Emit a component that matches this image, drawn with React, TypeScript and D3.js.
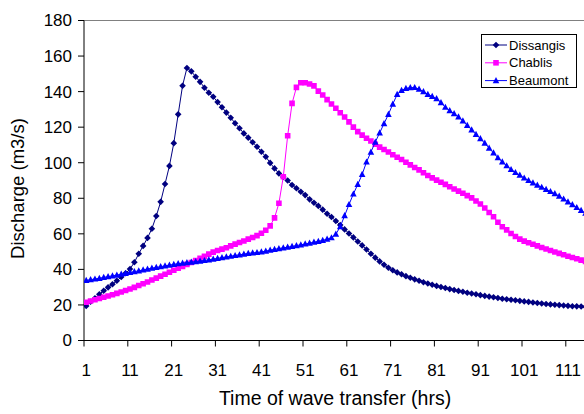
import React from "react";
import * as d3 from "d3";

// Hourly discharge (m3/s) at three gauging stations
const hours: number[] = d3.range(1, 116);

const dissangis: number[] = [
  19.4, 21.8, 23.7, 26, 28, 29.9, 31.6, 33.6, 35.7, 37.8,
  40.2, 44, 48.8, 53.2, 57.7, 62.9, 70, 78, 88, 98.2,
  111, 127.2, 143.3, 153.3, 151.4, 148.4, 145.5, 142.2, 139.4, 137.1,
  134.1, 131.2, 128.2, 125.3, 122.2, 119.4, 116.5, 114.1, 111.5, 109,
  106.2, 103.4, 99.9, 96.8, 94, 92, 90, 87.5, 85.6, 83.7,
  81.8, 79.4, 77.5, 75.7, 73.6, 71.3, 69.5, 67.2, 65, 62.5,
  60.2, 58, 55.7, 53.5, 51.2, 48.8, 46.6, 44.5, 42.6, 40.9,
  39.5, 38.3, 37.3, 36.2, 35.3, 34.4, 33.6, 32.8, 32.1, 31.4,
  30.7, 30.1, 29.5, 28.9, 28.4, 27.9, 27.4, 26.9, 26.4, 26,
  25.5, 25.1, 24.7, 24.3, 23.9, 23.5, 23.2, 22.9, 22.6, 22.3,
  22, 21.7, 21.4, 21.1, 20.8, 20.5, 20.3, 20.1, 19.9, 19.7,
  19.5, 19.3, 19.2, 19.1, 19,
];

const chablis: number[] = [
  21.5, 22.2, 22.9, 23.6, 24.3, 25, 25.7, 26.5, 27.3, 28.1,
  29, 29.9, 30.9, 31.9, 32.9, 34, 35.1, 36.2, 37.3, 38.4,
  39.5, 40.6, 41.7, 42.8, 43.9, 45, 46.2, 47.4, 48.6, 49.7,
  50.6, 51.4, 52.2, 53.2, 54.2, 55.1, 56, 57, 57.9, 59,
  60.3, 62, 64.5, 69, 77.2, 92.1, 115.2, 133.4, 142.4, 145,
  145, 144.3, 143.2, 140.3, 138.1, 135.5, 133, 130.6, 128.1, 125.7,
  123, 120, 117.5, 115.5, 113.8, 112.2, 110.4, 108.8, 107.4, 106,
  104.5, 103.1, 101.8, 100.3, 98.8, 97.3, 96, 94.4, 92.8, 91.5,
  90.2, 89, 87.8, 86.5, 85.2, 84, 82.8, 81.5, 80.2, 78.5,
  76.8, 74.5, 72, 69.6, 66.5, 64, 62.2, 60.2, 58.5, 57,
  55.9, 55, 54.1, 53.2, 52.3, 51.5, 50.6, 49.8, 49, 48.2,
  47.4, 46.7, 46, 45.2, 44.5,
];

const beaumont: number[] = [
  33.8, 34.2, 34.6, 35, 35.5, 35.9, 36.4, 36.8, 37.3, 37.8,
  38.3, 38.7, 39.2, 39.7, 40.2, 40.7, 41.1, 41.5, 42, 42.4,
  42.8, 43.2, 43.5, 43.8, 44.1, 44.4, 44.7, 45, 45.4, 45.8,
  46.2, 46.6, 47, 47.4, 47.8, 48.2, 48.6, 49, 49.3, 49.5,
  49.8, 50.3, 50.8, 51.3, 51.7, 52.1, 52.5, 52.9, 53.4, 53.8,
  54.3, 54.8, 55.3, 55.8, 56.3, 57, 57.8, 59.8, 64, 70.2,
  76.5, 82.4, 87.8, 93.4, 100.4, 106, 111.6, 116.8, 122, 127.2,
  133, 138.4, 140.7, 141.8, 142.2, 142.3, 141.4, 140, 138.5, 137.3,
  136, 133.8, 131.2, 129.3, 127.6, 125.8, 123.5, 121, 118.5, 116,
  113.5, 111, 108.2, 105.5, 102.8, 100.5, 98.3, 96.2, 94.5, 93,
  91.4, 90, 88.7, 87.4, 86.2, 85, 83.8, 82.6, 81.2, 79.6,
  78, 76.4, 74.8, 73.2, 71.6,
];

const seriesNames = ["Dissangis", "Chablis", "Beaumont"];
const seriesColors = ["#000080", "#FF00FF", "#0000FF"];
const xTickLabels = ["1", "11", "21", "31", "41", "51", "61", "71", "81", "91", "101", "111"];
const yTicks = [0, 20, 40, 60, 80, 100, 120, 140, 160, 180];

const W = 584;
const H = 414;
const FONT = "'Liberation Sans', Arial, sans-serif";

const plotLeft = 84;
const step = 4.38;
const nCats = 120;
const plotTop = 20.5;
const plotBottom = 340.5;

const x = d3.scaleLinear().domain([0.5, nCats + 0.5]).range([plotLeft, plotLeft + nCats * step]);
const y = d3.scaleLinear().domain([0, 180]).range([plotBottom, plotTop]);

type Shape = "diamond" | "square" | "triangle";
const shapes: Shape[] = ["diamond", "square", "triangle"];

function markerPath(shape: Shape): string {
  if (shape === "diamond") return "M0,-3.3L3.3,0L0,3.3L-3.3,0Z";
  if (shape === "square") return "M-2.8,-2.8H2.8V2.8H-2.8Z";
  return "M0,-3.6L3.3,2.6L-3.3,2.6Z";
}

const allSeries = [dissangis, chablis, beaumont];

export default function App() {
  const line = d3
    .line<number>()
    .x((_, i) => x(hours[i]))
    .y((d) => y(d));

  const boundaryTicks = d3.range(0, nCats + 1, 10).map((k) => k + 0.5);

  return (
    <svg
      width={W}
      height={H}
      style={{ position: "absolute", left: 0, top: 0, background: "#fff" }}
      fontFamily={FONT}
    >
      <rect x={0} y={0} width={W} height={H} fill="#fff" />
      <defs>
        <clipPath id="plotClip">
          <rect x={plotLeft} y={plotTop - 6} width={W - plotLeft} height={plotBottom - plotTop + 12} />
        </clipPath>
      </defs>

      {/* plot frame top edge */}
      <line x1={plotLeft} x2={W} y1={plotTop} y2={plotTop} stroke="#808080" strokeWidth={1} />

      {/* y axis */}
      <line x1={plotLeft} x2={plotLeft} y1={plotTop} y2={plotBottom} stroke="#000" strokeWidth={1} />
      {yTicks.map((t) => (
        <g key={t}>
          <line x1={plotLeft - 6} x2={plotLeft} y1={y(t)} y2={y(t)} stroke="#000" />
          <text x={plotLeft - 12} y={y(t)} dy="0.35em" textAnchor="end" fontSize={17}>
            {t}
          </text>
        </g>
      ))}

      {/* x axis */}
      <line x1={plotLeft} x2={W} y1={plotBottom} y2={plotBottom} stroke="#000" strokeWidth={1} />
      {boundaryTicks.map((t) => (
        <line key={t} x1={x(t)} x2={x(t)} y1={plotBottom} y2={plotBottom + 6} stroke="#000" />
      ))}
      {xTickLabels.map((lab) => (
        <text key={lab} x={x(+lab)} y={376} textAnchor="middle" fontSize={17}>
          {lab}
        </text>
      ))}

      <text x={335} y={405} textAnchor="middle" fontSize={19.5}>
        Time of wave transfer (hrs)
      </text>
      <text
        transform={`translate(24,${(plotTop + plotBottom) / 2 + 8}) rotate(-90)`}
        textAnchor="middle"
        fontSize={18.5}
      >
        Discharge (m3/s)
      </text>

      {/* series */}
      <g clipPath="url(#plotClip)">
        {allSeries.map((vals, s) => (
          <g key={seriesNames[s]}>
            <path d={line(vals) || ""} fill="none" stroke={seriesColors[s]} strokeWidth={1} />
            {vals.map((v, i) => (
              <path
                key={i}
                d={markerPath(shapes[s])}
                transform={`translate(${x(hours[i])},${y(v)})`}
                fill={seriesColors[s]}
              />
            ))}
          </g>
        ))}
      </g>

      {/* legend */}
      <g>
        <rect x={481.5} y={34.5} width={95} height={53} fill="#fff" stroke="#000" strokeWidth={1} />
        {seriesNames.map((name, s) => {
          const ly = 45 + s * 17.8;
          return (
            <g key={name}>
              <line x1={485} x2={507} y1={ly} y2={ly} stroke={seriesColors[s]} strokeWidth={1} />
              <path d={markerPath(shapes[s])} transform={`translate(496,${ly})`} fill={seriesColors[s]} />
              <text x={509} y={ly} dy="0.35em" fontSize={13}>
                {name}
              </text>
            </g>
          );
        })}
      </g>
    </svg>
  );
}
